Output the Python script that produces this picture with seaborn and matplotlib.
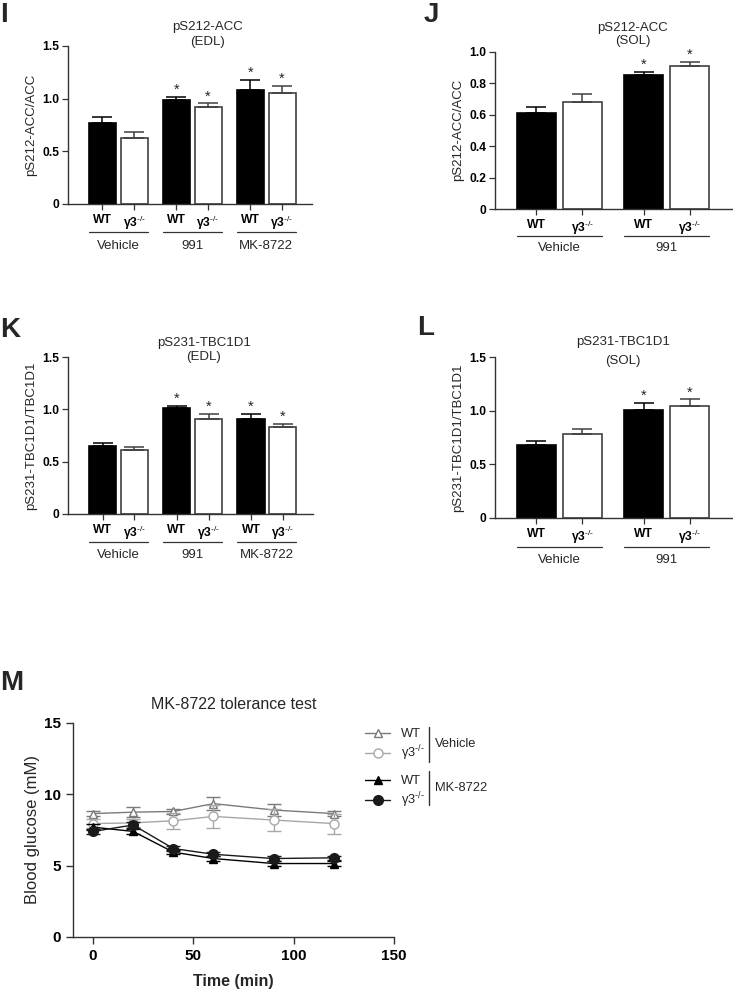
import numpy as np
import pandas as pd
import seaborn as sns
import matplotlib.pyplot as plt
from matplotlib.lines import Line2D

sns.set_style('ticks')
plt.rcParams['font.family'] = ['Liberation Sans', 'DejaVu Sans']
plt.rcParams['mathtext.fontset'] = 'custom'
plt.rcParams['mathtext.rm'] = 'Liberation Sans'
plt.rcParams['mathtext.it'] = 'Liberation Sans:italic'
plt.rcParams['mathtext.bf'] = 'Liberation Sans:bold'
plt.rcParams['axes.edgecolor'] = '#333333'
plt.rcParams['xtick.color'] = '#333333'
plt.rcParams['ytick.color'] = '#333333'
plt.rcParams['xtick.labelcolor'] = 'black'
plt.rcParams['ytick.labelcolor'] = 'black'

KO = r'γ3$^{\text{-/-}}$'
treat3 = ['Vehicle', '991', 'MK-8722']
treat2 = ['Vehicle', '991']

# pS212-ACC, EDL
acc_edl_wt = [0.77, 0.99, 1.08]
acc_edl_wt_err = [0.06, 0.03, 0.10]
acc_edl_ko = [0.63, 0.92, 1.05]
acc_edl_ko_err = [0.05, 0.035, 0.07]
acc_edl_star = [False, True, True]

# pS212-ACC, SOL
acc_sol_wt = [0.61, 0.85]
acc_sol_wt_err = [0.04, 0.02]
acc_sol_ko = [0.68, 0.91]
acc_sol_ko_err = [0.05, 0.025]
acc_sol_star = [False, True]

# pS231-TBC1D1, EDL
tbc_edl_wt = [0.65, 1.01, 0.91]
tbc_edl_wt_err = [0.03, 0.025, 0.045]
tbc_edl_ko = [0.61, 0.91, 0.83]
tbc_edl_ko_err = [0.03, 0.05, 0.03]
tbc_edl_star = [False, True, True]

# pS231-TBC1D1, SOL
tbc_sol_wt = [0.68, 1.01]
tbc_sol_wt_err = [0.04, 0.065]
tbc_sol_ko = [0.78, 1.04]
tbc_sol_ko_err = [0.05, 0.065]
tbc_sol_star = [False, True]

# MK-8722 tolerance test
time_min = [0, 20, 40, 60, 90, 120]
veh_wt = [8.65, 8.75, 8.8, 9.35, 8.9, 8.65]
veh_wt_err = [0.15, 0.35, 0.15, 0.45, 0.4, 0.15]
veh_ko = [7.95, 8.0, 8.15, 8.45, 8.2, 7.95]
veh_ko_err = [0.3, 0.3, 0.55, 0.8, 0.75, 0.7]
mk_wt = [7.7, 7.4, 5.95, 5.5, 5.15, 5.15]
mk_wt_err = [0.2, 0.15, 0.15, 0.15, 0.15, 0.15]
mk_ko = [7.4, 7.85, 6.2, 5.8, 5.5, 5.55]
mk_ko_err = [0.2, 0.2, 0.15, 0.15, 0.15, 0.15]

W, H = 733, 992
fig = plt.figure(figsize=(W / 100, H / 100), dpi=100)


def px_axes(left, top, right, bottom):
    return fig.add_axes([left / W, 1 - bottom / H, (right - left) / W, (bottom - top) / H])


def bar_panel(ax, treatments, wt, wt_err, ko, ko_err, stars, ylim, yticks, yticklabels,
              ylabel, title, title_x, title_y, title_ls, xlim, line_y, group_y):
    n = len(treatments)
    df = pd.DataFrame({
        'treatment': treatments * 2,
        'genotype': ['WT'] * n + ['KO'] * n,
        'value': wt + ko,
        'err': wt_err + ko_err,
        'star': stars + stars,
    })
    sns.barplot(data=df, x='treatment', y='value', hue='genotype', hue_order=['WT', 'KO'],
                palette={'WT': 'black', 'KO': 'white'}, saturation=1, errorbar=None,
                width=0.86, gap=0.15, legend=False, linewidth=1.2, ax=ax)
    centers = []
    for cont, g in zip(ax.containers, ['WT', 'KO']):
        sub = df[df.genotype == g]
        ec = 'black' if g == 'WT' else '#404040'
        xs = [b.get_x() + b.get_width() / 2 for b in cont]
        centers += [(x, 'WT' if g == 'WT' else KO) for x in xs]
        for b in cont:
            b.set_edgecolor(ec)
        ax.errorbar(xs, sub.value, yerr=[np.zeros(n), sub.err], fmt='none', ecolor=ec,
                    elinewidth=1.1, capsize=7, capthick=1.1)
        for x, v, e, s in zip(xs, sub.value, sub.err, sub.star):
            if s:
                ax.annotate('*', (x, v + e), xytext=(0, 0), textcoords='offset points',
                            ha='center', va='bottom', fontsize=10.5)
    centers.sort()
    ax.set_xticks([c[0] for c in centers])
    ax.set_xticklabels([c[1] for c in centers], fontweight='bold', fontsize=8.7)
    ax.tick_params(axis='x', length=4, width=0.9, pad=3)
    ax.tick_params(axis='y', length=4, width=0.9, pad=2, labelsize=8.7)
    ax.set_ylim(*ylim)
    ax.set_yticks(yticks)
    ax.set_yticklabels(yticklabels, fontweight='bold')
    ax.set_xlim(*xlim)
    ax.set_xlabel('')
    ax.set_ylabel(ylabel, fontsize=9.5, labelpad=4)
    ax.text(title_x, title_y, title, transform=ax.transAxes, ha='center', va='bottom',
            fontsize=9.5, linespacing=title_ls)
    trans = ax.get_xaxis_transform()
    for i, t in enumerate(treatments):
        left = ax.containers[0][i].get_x()
        right = ax.containers[1][i].get_x() + ax.containers[1][i].get_width()
        ax.plot([left, right], [line_y, line_y], transform=trans, clip_on=False,
                color='#333333', lw=0.9)
        ax.text((left + right) / 2, group_y, t, transform=trans, ha='center', va='center',
                fontsize=9.5)
    for sp in ['left', 'bottom']:
        ax.spines[sp].set_linewidth(1.0)
    sns.despine(ax=ax)


ax_i = px_axes(68, 46, 312, 204)
bar_panel(ax_i, treat3, acc_edl_wt, acc_edl_wt_err, acc_edl_ko, acc_edl_ko_err, acc_edl_star,
          (0, 1.5), [0, 0.5, 1.0, 1.5], ['0', '0.5', '1.0', '1.5'],
          'pS212-ACC/ACC', 'pS212-ACC\n(EDL)', 0.57, 0.99, 1.25, (-0.68, 2.62), -0.177, -0.266)

ax_j = px_axes(495, 51.7, 732, 209)
bar_panel(ax_j, treat2, acc_sol_wt, acc_sol_wt_err, acc_sol_ko, acc_sol_ko_err, acc_sol_star,
          (0, 1.0), [0, 0.2, 0.4, 0.6, 0.8, 1.0], ['0', '0.2', '0.4', '0.6', '0.8', '1.0'],
          'pS212-ACC/ACC', 'pS212-ACC\n(SOL)', 0.58, 1.03, 1.15, (-0.6, 1.61), -0.17, -0.25)

ax_k = px_axes(68, 357, 313, 514)
bar_panel(ax_k, treat3, tbc_edl_wt, tbc_edl_wt_err, tbc_edl_ko, tbc_edl_ko_err, tbc_edl_star,
          (0, 1.5), [0, 0.5, 1.0, 1.5], ['0', '0.5', '1.0', '1.5'],
          'pS231-TBC1D1/TBC1D1', 'pS231-TBC1D1\n(EDL)', 0.555, 0.96, 1.3, (-0.68, 2.62),
          -0.178, -0.261)

ax_l = px_axes(495, 357, 732, 518)
bar_panel(ax_l, treat2, tbc_sol_wt, tbc_sol_wt_err, tbc_sol_ko, tbc_sol_ko_err, tbc_sol_star,
          (0, 1.5), [0, 0.5, 1.0, 1.5], ['0', '0.5', '1.0', '1.5'],
          'pS231-TBC1D1/TBC1D1', 'pS231-TBC1D1\n(SOL)', 0.54, 0.94, 1.7, (-0.6, 1.61),
          -0.18, -0.26)

# tolerance test
ax_m = px_axes(73, 723, 394, 937)
series = [
    (veh_wt, veh_wt_err, '^', '#7a7a7a', 'white', 6, 'WT'),
    (veh_ko, veh_ko_err, 'o', '#a8a8a8', 'white', 6.5, KO),
    (mk_wt, mk_wt_err, '^', 'black', 'black', 6, 'WT'),
    (mk_ko, mk_ko_err, 'o', '#1a1a1a', '#1a1a1a', 7, KO),
]
handles = []
for y, e, mk, c, fc, ms, lab in series:
    ax_m.errorbar(time_min, y, yerr=e, fmt='none', ecolor=c, elinewidth=1.0,
                  capsize=5, capthick=1.0)
    sns.lineplot(x=time_min, y=y, marker=mk, color=c, markerfacecolor=fc,
                 markeredgecolor=c, markersize=ms, markeredgewidth=1.0, lw=1.0, ax=ax_m)
    handles.append(ax_m.lines[-1])
ax_m.set_xlim(-10, 150)
ax_m.set_ylim(0, 15)
ax_m.set_xticks([0, 50, 100, 150])
ax_m.set_yticks([0, 5, 10, 15])
ax_m.tick_params(labelsize=11, length=5, width=1.0)
for lab in ax_m.get_xticklabels() + ax_m.get_yticklabels():
    lab.set_fontweight('bold')
ax_m.set_xlabel('Time (min)', fontsize=11.5, fontweight='bold', labelpad=8)
ax_m.set_ylabel('Blood glucose (mM)', fontsize=12, labelpad=3)
ax_m.set_title('MK-8722 tolerance test', fontsize=11.5, pad=10)
for sp in ['left', 'bottom']:
    ax_m.spines[sp].set_linewidth(1.0)
sns.despine(ax=ax_m)

leg_kw = dict(loc='upper left', frameon=False, fontsize=9.3, handlelength=1.95,
              handletextpad=0.8, borderpad=0, borderaxespad=0, labelspacing=0.25)
fig.legend(handles=handles[:2], labels=['WT', KO], bbox_to_anchor=(365 / W, 1 - 728 / H), **leg_kw)
fig.legend(handles=handles[2:], labels=['WT', KO], bbox_to_anchor=(365 / W, 1 - 775 / H), **leg_kw)
for top, bot, txt, yc in [(727, 762, 'Vehicle', 744), (771, 805, 'MK-8722', 788)]:
    fig.add_artist(Line2D([429 / W, 429 / W], [1 - top / H, 1 - bot / H],
                          transform=fig.transFigure, color='#333333', lw=1.0))
    fig.text(435 / W, 1 - yc / H, txt, va='center', ha='left', fontsize=9.3)

# panel letters
for x, y, letter in [(0, 22, 'I'), (424, 22, 'J'), (0, 337, 'K'), (417, 335, 'L'), (0, 690, 'M')]:
    fig.text(x / W, 1 - y / H, letter, fontsize=20, fontweight='bold', va='baseline', ha='left')

fig.savefig('out.png', dpi=100)
